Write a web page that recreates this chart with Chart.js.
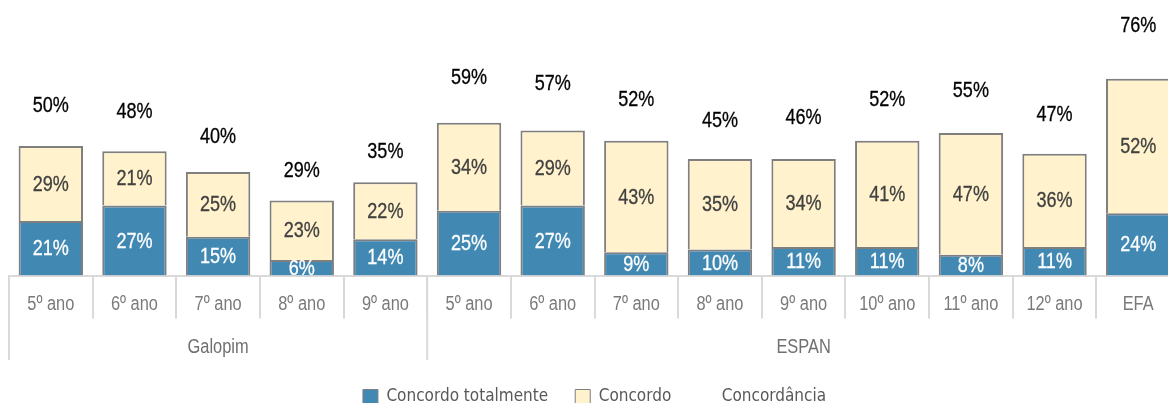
<!DOCTYPE html>
<html>
<head>
<meta charset="utf-8">
<script src="https://cdn.jsdelivr.net/npm/chart.js@4.4.1/dist/chart.umd.min.js"></script>
<style>
  html, body { margin: 0; padding: 0; background: #fff; overflow: hidden; }
  #wrap { width: 1180px; height: 403px; }
</style>
</head>
<body>
<div id="wrap"><canvas id="chart" width="1180" height="403"></canvas></div>
<script>
const categories = ["5º ano", "6º ano", "7º ano", "8º ano", "9º ano",
  "5º ano", "6º ano", "7º ano", "8º ano", "9º ano", "10º ano", "11º ano", "12º ano", "EFA"];
const groupNames = ["Galopim", "ESPAN"];
const groupSizes = [5, 9];

const totalmente = [21, 27, 15, 6, 14, 25, 27, 9, 10, 11, 11, 8, 11, 24];
const concordo = [29, 21, 25, 23, 22, 34, 29, 43, 35, 34, 41, 47, 36, 52];
const concordancia = [50, 48, 40, 29, 35, 59, 57, 52, 45, 46, 52, 55, 47, 76];

const FONT = "'DejaVu Sans Condensed', 'Arial Narrow', sans-serif";
const NARROW = "'Liberation Sans', Arial, sans-serif";
const BLUE = "#4189b3";
const CREAM = "#fff2cc";
const EDGE = "#7f7f7f";
const AXIS = "#d9d9d9";

// Arial-like face squeezed horizontally, close to Arial Narrow
function narrowText(ctx, text, x, y, size, weight) {
  ctx.save();
  ctx.translate(x, y);
  ctx.scale(0.82, 1);
  ctx.font = size + "px " + NARROW;
  ctx.fillText(text, 0, 0);
  if (weight) {
    ctx.strokeStyle = ctx.fillStyle;
    ctx.lineWidth = weight;
    ctx.strokeText(text, 0, 0);
  }
  ctx.restore();
}

// values inside each stacked segment + the total above each stack
const labelPlugin = {
  id: "labels",
  afterDatasetsDraw(chart) {
    const { ctx, chartArea, scales: { y } } = chart;
    ctx.save();
    ctx.textAlign = "center";
    ctx.textBaseline = "middle";

    ctx.save();
    ctx.beginPath();
    ctx.rect(0, 0, chart.width, chartArea.bottom);
    ctx.clip();
    [0, 1].forEach(di => {
      const meta = chart.getDatasetMeta(di);
      const vals = chart.data.datasets[di].data;
      ctx.fillStyle = di === 0 ? "#ffffff" : "#404040";
      meta.data.forEach((bar, i) => {
        const mid = (bar.y + bar.base) / 2;
        narrowText(ctx, vals[i] + "%", bar.x, mid + 1, 22, 0.3);
      });
    });
    ctx.restore();

    const meta = chart.getDatasetMeta(2);
    ctx.fillStyle = "#000000";
    meta.data.forEach((pt, i) => {
      const v = concordancia[i];
      // lifted above the stack, a bit more for taller stacks
      const py = y.getPixelForValue(v * 1.19 + 6);
      narrowText(ctx, v + "%", pt.x, py, 22, 0.3);
    });
    ctx.restore();
  }
};

// category names, group captions and separators under the axis
const groupPlugin = {
  id: "groups",
  afterDraw(chart) {
    const { ctx, chartArea, scales: { x } } = chart;
    const half = (x.getPixelForTick(1) - x.getPixelForTick(0)) / 2;
    ctx.save();
    ctx.textAlign = "center";
    ctx.textBaseline = "middle";
    ctx.fillStyle = "#7a7a7a";
    categories.forEach((c, i) => narrowText(ctx, c, x.getPixelForTick(i), 304, 20));

    ctx.strokeStyle = AXIS;
    ctx.lineWidth = 2;
    ctx.fillStyle = "#707070";
    let start = 0;
    groupNames.forEach((name, g) => {
      const end = start + groupSizes[g] - 1;
      const left = x.getPixelForTick(start) - half;
      const right = x.getPixelForTick(end) + half;
      ctx.beginPath();
      ctx.moveTo(left, chartArea.bottom);
      ctx.lineTo(left, 360);
      ctx.stroke();
      narrowText(ctx, name, (left + right) / 2, 347, 20);
      start = end + 1;
    });
    ctx.restore();
  }
};

new Chart(document.getElementById("chart"), {
  type: "bar",
  data: {
    labels: categories,
    datasets: [
      {
        label: "Concordo totalmente",
        data: totalmente,
        backgroundColor: BLUE,
        borderColor: EDGE,
        borderWidth: 2,
        stack: "s"
      },
      {
        label: "Concordo",
        data: concordo,
        backgroundColor: CREAM,
        borderColor: EDGE,
        borderWidth: 2,
        stack: "s"
      },
      {
        type: "line",
        label: "Concordância",
        data: concordancia,
        showLine: false,
        pointRadius: 0,
        backgroundColor: "transparent",
        borderColor: "transparent"
      }
    ]
  },
  options: {
    responsive: false,
    animation: false,
    layout: { padding: { top: 16.5, left: 9, right: 0, bottom: -12.5 } },
    datasets: { bar: { categoryPercentage: 1, barPercentage: 0.77 } },
    scales: {
      x: {
        stacked: true,
        afterFit(scale) { scale.height = 86; },
        border: { display: true, color: AXIS, width: 2 },
        grid: { drawOnChartArea: false, color: AXIS, lineWidth: 2, tickLength: 43 },
        ticks: { display: false }
      },
      y: {
        stacked: true,
        display: false,
        min: 0,
        max: 100
      }
    },
    plugins: {
      tooltip: { enabled: false },
      legend: {
        position: "bottom",
        labels: {
          color: "#595959",
          boxWidth: 15,
          boxHeight: 15,
          padding: 27,
          font: { family: FONT, size: 17 },
          generateLabels(chart) {
            return chart.data.datasets.map((ds, i) => ({
              text: ds.label,
              fillStyle: i === 2 ? "transparent" : ds.backgroundColor,
              strokeStyle: i === 2 ? "transparent" : EDGE,
              lineWidth: i === 2 ? 0 : 1,
              fontColor: "#595959",
              hidden: false,
              datasetIndex: i
            }));
          }
        }
      }
    }
  },
  plugins: [labelPlugin, groupPlugin]
});
</script>
</body>
</html>
